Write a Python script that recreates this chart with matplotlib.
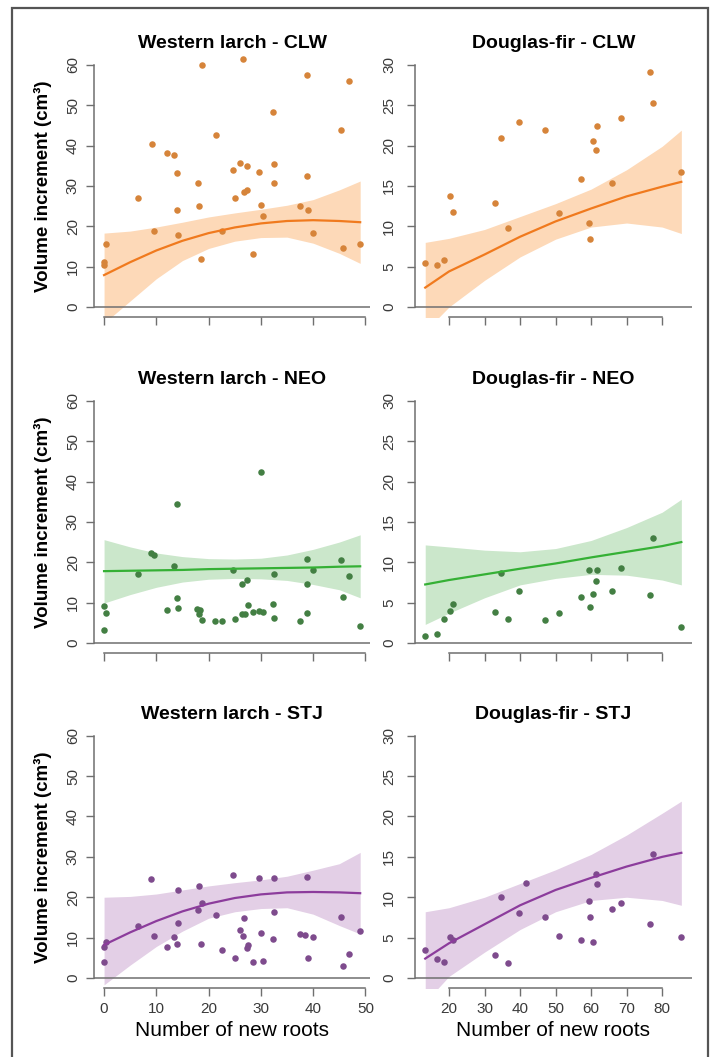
import matplotlib
matplotlib.use("Agg")
import matplotlib.pyplot as plt
from matplotlib.patches import Rectangle

plt.rcParams['font.family'] = ['Liberation Sans', 'DejaVu Sans']

# ---- Western larch (x = number of new roots, y = volume increment) ----
wl_clw_x = [0, 0, 0.4, 6.5, 9.1, 9.6, 12.1, 13.4, 13.9, 13.9, 14.1, 17.9, 18.2, 18.5, 18.7,
            21.4, 22.6, 24.6, 25.1, 26.1, 26.5, 26.8, 27.4, 27.3, 28.4, 29.6, 30.0, 30.5,
            32.3, 32.5, 32.5, 37.5, 38.8, 38.9, 39.0, 39.9, 45.3, 45.8, 46.9, 49.0]
wl_clw_y = [10.5, 11.2, 15.6, 26.9, 40.3, 18.9, 38.1, 37.7, 33.1, 24.0, 17.9, 30.7, 24.9, 11.8, 59.9,
            42.7, 18.7, 34.0, 26.9, 35.6, 61.4, 28.5, 29.1, 34.8, 13.1, 33.5, 25.3, 22.5,
            48.3, 35.3, 30.7, 25.1, 32.5, 57.4, 24.0, 18.4, 43.8, 14.6, 55.9, 15.7]

wl_neo_x = [0, 0.45, 0, 6.4, 8.9, 9.6, 12.1, 13.4, 13.9, 13.9, 14.2, 17.8, 18.3, 18.2, 18.7,
            21.3, 22.6, 24.6, 25.1, 26.4, 27.3, 26.3, 26.9, 27.5, 28.4, 29.6, 30.5, 30.0,
            32.3, 32.5, 32.5, 37.5, 38.8, 38.9, 38.8, 39.9, 45.3, 45.8, 46.9, 48.9]
wl_neo_y = [9.2, 7.4, 3.3, 17.0, 22.3, 21.8, 8.1, 19.0, 34.5, 11.2, 8.7, 8.4, 8.1, 7.1, 5.8,
            5.4, 5.4, 18.0, 5.9, 14.5, 15.7, 7.3, 7.3, 9.4, 7.7, 7.9, 7.8, 42.4,
            9.7, 17.0, 6.3, 5.4, 20.9, 14.7, 7.5, 18.1, 20.6, 11.4, 16.6, 4.2]

wl_stj_x = [0, 0, 0.45, 6.4, 8.9, 9.6, 12.1, 13.4, 14.1, 14.1, 13.9, 17.9, 18.2, 18.5, 18.8,
            21.4, 22.6, 24.6, 25.1, 26.1, 26.5, 26.8, 27.3, 27.5, 28.4, 29.6, 30.0, 30.5,
            32.3, 32.5, 32.5, 37.5, 38.8, 38.5, 39.0, 39.9, 45.3, 45.8, 46.9, 48.9]
wl_stj_y = [4.0, 7.6, 9.0, 12.9, 24.5, 10.5, 7.7, 10.1, 13.5, 21.9, 8.4, 16.8, 22.7, 8.3, 18.5,
            15.7, 6.9, 25.5, 5.0, 12.0, 10.4, 14.8, 7.4, 8.2, 4.0, 24.8, 11.2, 4.3,
            9.7, 24.8, 16.3, 10.9, 25.1, 10.6, 4.9, 10.2, 15.2, 3.0, 5.9, 11.7]

wl_fit_x = [0, 5, 10, 15, 20, 25, 30, 35, 40, 45, 49]
wl_clw_fit = [7.9, 11.1, 14.0, 16.4, 18.3, 19.7, 20.7, 21.3, 21.5, 21.3, 21.0]
wl_clw_hi = [18.3, 18.8, 19.8, 21.0, 22.3, 23.3, 24.2, 25.2, 26.6, 29.0, 31.2]
wl_clw_lo = [-4.0, 1.5, 7.0, 11.5, 14.5, 16.3, 17.2, 17.3, 15.8, 13.3, 10.8]
wl_neo_fit = [17.8, 17.9, 18.0, 18.1, 18.3, 18.4, 18.5, 18.6, 18.7, 18.9, 19.0]
wl_neo_hi = [25.6, 23.8, 22.3, 21.4, 20.9, 20.8, 21.0, 21.8, 23.2, 25.0, 26.8]
wl_neo_lo = [9.9, 12.0, 13.8, 15.1, 15.8, 16.0, 15.9, 15.5, 14.5, 13.2, 11.2]
wl_stj_fit = [8.2, 11.3, 14.1, 16.5, 18.4, 19.8, 20.7, 21.2, 21.3, 21.2, 21.0]
wl_stj_hi = [20.0, 20.2, 20.8, 21.8, 22.8, 23.6, 24.3, 25.2, 26.7, 28.3, 31.1]
wl_stj_lo = [-1.7, 3.2, 7.8, 11.6, 14.8, 16.4, 17.2, 17.4, 15.8, 13.0, 10.9]

# ---- Douglas-fir ----
df_clw_x = [13.25, 16.7, 18.6, 20.2, 21.2, 32.9, 34.5, 36.6, 39.7, 47.1, 51.1, 57.2,
            59.5, 59.6, 60.5, 61.3, 61.7, 65.8, 68.5, 76.7, 77.5, 85.4]
df_clw_y = [5.5, 5.2, 5.8, 13.8, 11.8, 12.9, 20.9, 9.75, 22.9, 21.9, 11.7, 15.9,
            10.45, 8.4, 20.6, 19.5, 22.4, 15.4, 23.4, 29.05, 25.3, 16.7]

df_neo_x = [13.25, 16.7, 18.6, 20.2, 21.2, 32.9, 34.5, 36.6, 39.7, 47.1, 51.1, 57.2,
            59.5, 59.6, 60.5, 61.3, 61.7, 65.8, 68.5, 76.7, 77.5, 85.4]
df_neo_y = [0.82, 1.07, 3.0, 4.0, 4.8, 3.9, 8.7, 3.0, 6.4, 2.8, 3.75, 5.7,
            9.0, 4.5, 6.1, 7.7, 9.1, 6.4, 9.3, 5.9, 13.0, 2.0]

df_stj_x = [13.25, 16.7, 18.6, 20.2, 21.2, 32.9, 34.5, 36.6, 39.7, 41.8, 47.1, 51.1, 57.2,
            59.5, 59.6, 60.5, 61.3, 61.7, 65.8, 68.5, 76.7, 77.5, 85.4]
df_stj_y = [3.5, 2.4, 2.0, 5.1, 4.7, 2.8, 10.0, 1.8, 8.1, 11.8, 7.6, 5.2, 4.7,
            9.5, 7.6, 4.5, 12.9, 11.6, 8.6, 9.3, 6.7, 15.3, 5.1]

df_fit_x = [13.3, 20, 30, 40, 50, 60, 70, 80, 85.4]
df_clw_fit = [2.4, 4.4, 6.5, 8.7, 10.6, 12.2, 13.7, 14.9, 15.5]
df_clw_hi = [8.0, 8.5, 9.6, 11.2, 12.8, 14.6, 17.0, 19.9, 21.9]
df_clw_lo = [-3.0, 0.0, 3.3, 6.2, 8.4, 9.9, 10.4, 9.9, 9.1]
df_neo_fit = [7.25, 7.8, 8.5, 9.2, 9.85, 10.6, 11.3, 12.0, 12.5]
df_neo_hi = [12.15, 11.9, 11.5, 11.3, 11.7, 12.7, 14.3, 16.2, 17.8]
df_neo_lo = [2.3, 3.7, 5.6, 7.2, 8.0, 8.5, 8.4, 7.8, 7.2]
df_stj_fit = [2.4, 4.3, 6.65, 9.0, 10.9, 12.4, 13.8, 15.0, 15.5]
df_stj_hi = [8.2, 8.7, 10.0, 11.7, 13.4, 15.3, 17.7, 20.4, 21.9]
df_stj_lo = [-3.0, 0.2, 3.2, 6.0, 8.2, 9.6, 10.0, 9.6, 9.0]

titles = ["Western larch - CLW", "Douglas-fir - CLW",
          "Western larch - NEO", "Douglas-fir - NEO",
          "Western larch - STJ", "Douglas-fir - STJ"]

# colours per site: points, line, band
orange = ["#d6843a", "#f07a1e", "#fdd9b8"]
green = ["#437f43", "#35b035", "#cbe7cb"]
purple = ["#7e4b8d", "#8c3c9c", "#e3cfe6"]

axis_col = "#6f6f6f"


def panel(ax, x, y, fx, fit, lo, hi, col, top, xticks, title, xlabels, ypad):
    span = fx[-1] - fx[0]
    ax.set_xlim(fx[0] - 0.04 * span, fx[-1] + 0.04 * span)
    ax.set_ylim(-0.04 * top, 1.04 * top)
    ax.fill_between(fx, lo, hi, color=col[2], lw=0, zorder=1)
    ax.axhline(0, color=axis_col, lw=1.1, zorder=2)
    ax.scatter(x, y, s=22, color=col[0], linewidths=0, zorder=3)
    ax.plot(fx, fit, color=col[1], lw=1.6, zorder=4)

    for s in ["top", "right"]:
        ax.spines[s].set_visible(False)
    ax.spines["left"].set_bounds(0, top)
    ax.spines["bottom"].set_bounds(xticks[0], xticks[-1])
    for s in ["left", "bottom"]:
        ax.spines[s].set_color(axis_col)
        ax.spines[s].set_linewidth(1.1)

    ax.set_yticks(range(0, top + 1, top // 6))
    ax.set_xticks(xticks)
    ax.tick_params(direction="out", length=5.5, width=1.0, color=axis_col,
                   labelcolor="#3a3a3a", labelsize=11)
    ax.tick_params(axis="y", pad=ypad)
    ax.tick_params(axis="x", pad=5)
    for lab in ax.get_yticklabels():
        lab.set_rotation(90)
        lab.set_va("center")
    if not xlabels:
        ax.set_xticklabels([])
    ax.text(0.5, 1.046, title, transform=ax.transAxes, ha="center", va="center",
            fontsize=14, fontweight="bold")


fig = plt.figure(figsize=(7.14, 10.57), dpi=100)

lefts = [0.1314, 0.5812]
bottoms = [0.7004, 0.3825, 0.0656]
w = 0.3874
h = 0.2475

rows = [
    [(wl_clw_x, wl_clw_y, wl_fit_x, wl_clw_fit, wl_clw_lo, wl_clw_hi),
     (df_clw_x, df_clw_y, df_fit_x, df_clw_fit, df_clw_lo, df_clw_hi)],
    [(wl_neo_x, wl_neo_y, wl_fit_x, wl_neo_fit, wl_neo_lo, wl_neo_hi),
     (df_neo_x, df_neo_y, df_fit_x, df_neo_fit, df_neo_lo, df_neo_hi)],
    [(wl_stj_x, wl_stj_y, wl_fit_x, wl_stj_fit, wl_stj_lo, wl_stj_hi),
     (df_stj_x, df_stj_y, df_fit_x, df_stj_fit, df_stj_lo, df_stj_hi)],
]
cols = [orange, green, purple]

for r in range(3):
    for c in range(2):
        ax = fig.add_axes([lefts[c], bottoms[r], w, h])
        x, y, fx, fit, lo, hi = rows[r][c]
        if c == 0:
            top, xt, ypad = 60, [0, 10, 20, 30, 40, 50], 4.5
        else:
            top, xt, ypad = 30, [20, 30, 40, 50, 60, 70, 80], 8
        panel(ax, x, y, fx, fit, lo, hi, cols[r], top, xt, titles[r * 2 + c], r == 2, ypad)
        if c == 0:
            fig.text(43 / 714, bottoms[r] + h / 2, "Volume increment (cm³)", rotation=90,
                     ha="center", va="center", fontsize=13.5, fontweight="bold")
        if r == 2:
            fig.text(lefts[c] + w / 2, 1 - 1031 / 1057, "Number of new roots",
                     ha="center", va="center", fontsize=15)

# outer frame
fig.add_artist(Rectangle((12 / 714, -0.01), 696 / 714, 1 - 8 / 1057 + 0.01,
                         transform=fig.transFigure, fill=False, ec="#555555", lw=1.6))

fig.savefig("out.png", dpi=100)
